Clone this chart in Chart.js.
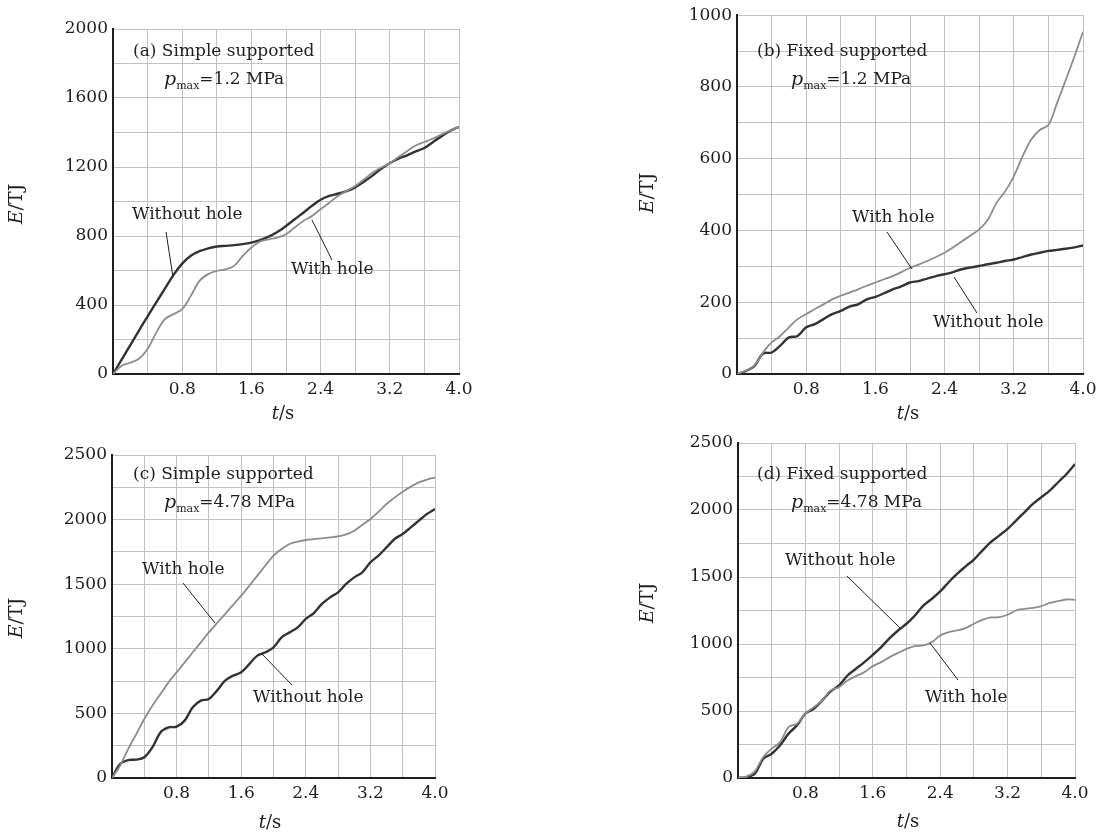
<!DOCTYPE html>
<html>
<head>
<meta charset="utf-8">
<script src="https://cdn.jsdelivr.net/npm/chart.js@4.4.1/dist/chart.umd.min.js"></script>
<style>
  html, body { margin: 0; padding: 0; background: #fff; }
  body { width: 1107px; height: 837px; position: relative; overflow: hidden; }
  canvas { position: absolute; }
</style>
</head>
<body>
<canvas id="chartA" width="590" height="425" style="left:0px;top:0px"></canvas>
<canvas id="chartB" width="517" height="425" style="left:590px;top:0px"></canvas>
<canvas id="chartC" width="590" height="412" style="left:0px;top:425px"></canvas>
<canvas id="chartD" width="517" height="412" style="left:590px;top:425px"></canvas>
<script>
// ===== DATA =====
const TIME_S = [0, 0.1, 0.2, 0.3, 0.4, 0.5, 0.6, 0.7, 0.8, 0.9, 1.0,
  1.1, 1.2, 1.3, 1.4, 1.5, 1.6, 1.7, 1.8, 1.9, 2.0,
  2.1, 2.2, 2.3, 2.4, 2.5, 2.6, 2.7, 2.8, 2.9, 3.0,
  3.1, 3.2, 3.3, 3.4, 3.5, 3.6, 3.7, 3.8, 3.9, 4.0];

const X_TICK_LABELS = ['0.8', '1.6', '2.4', '3.2', '4.0'];

// (a) simple supported, pmax = 1.2 MPa
const WITHOUT_A = [0, 84, 168, 252, 334, 415, 495, 575, 640, 685, 712,
  728, 739, 743, 747, 753, 762, 776, 796, 823, 858,
  897, 935, 975, 1010, 1032, 1045, 1060, 1082, 1115, 1150,
  1190, 1222, 1248, 1268, 1290, 1310, 1345, 1379, 1410, 1432];
const WITH_A = [0, 48, 65, 88, 145, 240, 318, 347, 376, 453, 540,
  579, 598, 607, 627, 685, 733, 768, 781, 791, 810,
  849, 887, 916, 955, 993, 1032, 1061, 1090, 1128, 1167,
  1197, 1221, 1258, 1292, 1325, 1345, 1365, 1389, 1412, 1432];
const Y_LABELS_A = [0, 400, 800, 1200, 1600, 2000];

// (b) fixed supported, pmax = 1.2 MPa
const WITH_B = [0, 9, 23, 60, 88, 106, 130, 153, 167, 181, 194,
  208, 218, 227, 236, 246, 255, 264, 273, 284, 296,
  305, 315, 326, 338, 353, 370, 386, 403, 430, 477,
  509, 551, 606, 653, 680, 694, 755, 819, 884, 954];
const WITHOUT_B = [0, 8, 22, 57, 60, 79, 102, 106, 130, 139, 153,
  167, 176, 188, 194, 208, 215, 225, 236, 244, 255,
  259, 266, 273, 278, 284, 292, 297, 301, 306, 310,
  315, 319, 326, 333, 338, 343, 346, 349, 353, 358];
const Y_LABELS_B = [0, 200, 400, 600, 800, 1000];

// (c) simple supported, pmax = 4.78 MPa
const WITH_C = [0, 95, 224, 340, 457, 560, 650, 740, 818, 895, 973,
  1050, 1127, 1198, 1269, 1340, 1411, 1488, 1566, 1645, 1721,
  1772, 1811, 1830, 1842, 1849, 1855, 1862, 1870, 1885, 1914,
  1960, 2005, 2060, 2121, 2170, 2216, 2255, 2288, 2310, 2325];
const WITHOUT_C = [0, 108, 139, 142, 160, 237, 353, 392, 397, 444, 547,
  599, 611, 676, 753, 792, 818, 882, 947, 973, 1011,
  1089, 1127, 1166, 1231, 1277, 1347, 1398, 1437, 1502, 1553,
  1592, 1669, 1721, 1785, 1850, 1889, 1940, 1992, 2043, 2082];
const Y_LABELS_C = [0, 500, 1000, 1500, 2000, 2500];

// (d) fixed supported, pmax = 4.78 MPa
const WITHOUT_D = [0, 7, 32, 144, 181, 244, 331, 393, 480, 517, 579,
  646, 691, 765, 815, 865, 919, 977, 1044, 1101, 1151,
  1213, 1287, 1337, 1392, 1461, 1523, 1578, 1630, 1697, 1760,
  1809, 1859, 1921, 1983, 2045, 2095, 2145, 2207, 2269, 2343];
const WITH_D = [0, 10, 50, 157, 219, 268, 380, 405, 480, 529, 579,
  654, 678, 728, 760, 790, 835, 865, 902, 934, 964,
  984, 989, 1014, 1064, 1088, 1101, 1118, 1151, 1180, 1198,
  1200, 1218, 1250, 1262, 1270, 1282, 1307, 1320, 1332, 1330];
const Y_LABELS_D = [0, 500, 1000, 1500, 2000, 2500];

// ===== STYLE =====
const INK = '#1e1e1e';
const DARK_LINE = '#333333';
const GRAY_LINE = '#8c8c8c';
const GRID = '#c2c2c2';
const SERIF = "'DejaVu Serif', 'Liberation Serif', serif";
const TICK_FONT = 17;
const AXIS_W = 60;
const AXIS_H = 30;

// draw a row of text runs; parts = [{t, italic, size, dy}]
function drawRuns(ctx, parts, x, y, align) {
  let total = 0;
  parts.forEach(p => {
    ctx.font = (p.italic ? 'italic ' : '') + p.size + 'px ' + SERIF;
    p.w = ctx.measureText(p.t).width;
    total += p.w;
  });
  let cx = align === 'center' ? x - total / 2 : x;
  ctx.textAlign = 'left';
  ctx.textBaseline = 'middle';
  parts.forEach(p => {
    ctx.font = (p.italic ? 'italic ' : '') + p.size + 'px ' + SERIF;
    ctx.fillText(p.t, cx, y + (p.dy || 0));
    cx += p.w;
  });
}

const panelText = {
  id: 'panelText',
  afterDatasetsDraw(chart, args, o) {
    const ctx = chart.ctx;
    ctx.save();
    ctx.translate(-o.ox, -o.oy);
    ctx.fillStyle = INK;

    // axis titles
    ctx.save();
    ctx.translate(o.yTitle[0], o.yTitle[1]);
    ctx.rotate(-Math.PI / 2);
    drawRuns(ctx, [{ t: 'E', italic: true, size: 19 }, { t: '/TJ', size: 19 }], 0, 0, 'center');
    ctx.restore();
    drawRuns(ctx, [{ t: 't', italic: true, size: 18 }, { t: '/s', size: 18 }], o.xTitle[0], o.xTitle[1], 'center');

    // case label and load
    drawRuns(ctx, [{ t: o.title, size: 17 }], o.titlePos[0], o.titlePos[1], 'left');
    drawRuns(ctx, [
      { t: 'p', italic: true, size: 19 },
      { t: 'max', size: 11, dy: 6 },
      { t: o.load, size: 17 }
    ], o.loadPos[0], o.loadPos[1], 'left');

    // curve labels with leader lines
    ctx.strokeStyle = INK;
    ctx.lineWidth = 1;
    o.labels.forEach(l => {
      drawRuns(ctx, [{ t: l.text, size: 17 }], l.at[0], l.at[1], 'left');
      ctx.beginPath();
      ctx.moveTo(l.line[0], l.line[1]);
      ctx.lineTo(l.line[2], l.line[3]);
      ctx.stroke();
    });
    ctx.restore();
  }
};

function series(values, label, color, width) {
  return {
    label,
    data: TIME_S.map((t, i) => ({ x: t, y: values[i] })),
    borderColor: color,
    borderWidth: width,
    pointRadius: 0,
    tension: 0.35,
    fill: false
  };
}

function makePanel(id, p) {
  const canvas = document.getElementById(id);
  const ox = p.canvas[0], oy = p.canvas[1];
  const w = canvas.width, h = canvas.height;
  const pad = {
    left: p.area.l - ox - AXIS_W,
    top: p.area.t - oy,
    right: ox + w - p.area.r,
    bottom: oy + h - p.area.b - AXIS_H
  };
  return new Chart(canvas, {
    type: 'line',
    data: {
      datasets: [
        series(p.withHole, 'With hole', GRAY_LINE, 1.8),
        series(p.withoutHole, 'Without hole', DARK_LINE, 2.4)
      ]
    },
    options: {
      responsive: false,
      animation: false,
      layout: { padding: pad },
      plugins: {
        legend: { display: false },
        tooltip: { enabled: false },
        panelText: Object.assign({ ox, oy }, p.text)
      },
      scales: {
        x: {
          type: 'linear',
          min: 0, max: 4,
          afterFit: s => { s.height = AXIS_H; },
          ticks: {
            stepSize: 0.4,
            autoSkip: false,
            maxRotation: 0,
            padding: 5,
            color: INK,
            font: { family: SERIF, size: TICK_FONT },
            callback: v => {
              const s = Number(v).toFixed(1);
              return X_TICK_LABELS.includes(s) ? s : '';
            }
          },
          grid: { color: GRID, lineWidth: 1, drawTicks: false },
          border: { color: INK, width: 2 }
        },
        y: {
          min: 0, max: p.yMax,
          afterFit: s => { s.width = AXIS_W; },
          ticks: {
            stepSize: p.yStep,
            autoSkip: false,
            padding: 5,
            color: INK,
            font: { family: SERIF, size: TICK_FONT },
            callback: v => (p.yLabels.includes(Math.round(v)) ? String(Math.round(v)) : '')
          },
          grid: { color: GRID, lineWidth: 1, drawTicks: false },
          border: { color: INK, width: 2 }
        }
      }
    },
    plugins: [panelText]
  });
}

makePanel('chartA', {
  canvas: [0, 0], area: { l: 113, t: 29, r: 459, b: 374 },
  yMax: 2000, yStep: 200, yLabels: Y_LABELS_A,
  withHole: WITH_A, withoutHole: WITHOUT_A,
  text: {
    yTitle: [17, 204], xTitle: [283, 414],
    title: '(a) Simple supported', titlePos: [133, 52],
    load: '=1.2 MPa', loadPos: [164, 80],
    labels: [
      { text: 'Without hole', at: [132, 215], line: [166, 232, 173, 277] },
      { text: 'With hole', at: [291, 270], line: [332, 260, 312, 220] }
    ]
  }
});

makePanel('chartB', {
  canvas: [590, 0], area: { l: 737, t: 15, r: 1083, b: 374 },
  yMax: 1000, yStep: 100, yLabels: Y_LABELS_B,
  withHole: WITH_B, withoutHole: WITHOUT_B,
  text: {
    yTitle: [648, 193], xTitle: [908, 414],
    title: '(b) Fixed supported', titlePos: [757, 52],
    load: '=1.2 MPa', loadPos: [791, 80],
    labels: [
      { text: 'With hole', at: [852, 218], line: [887, 232, 912, 269] },
      { text: 'Without hole', at: [933, 323], line: [977, 313, 954, 277] }
    ]
  }
});

makePanel('chartC', {
  canvas: [0, 425], area: { l: 112, t: 455, r: 435, b: 778 },
  yMax: 2500, yStep: 250, yLabels: Y_LABELS_C,
  withHole: WITH_C, withoutHole: WITHOUT_C,
  text: {
    yTitle: [17, 618], xTitle: [270, 823],
    title: '(c) Simple supported', titlePos: [133, 475],
    load: '=4.78 MPa', loadPos: [164, 503],
    labels: [
      { text: 'With hole', at: [142, 570], line: [183, 583, 215, 623] },
      { text: 'Without hole', at: [253, 698], line: [292, 685, 262, 654] }
    ]
  }
});

makePanel('chartD', {
  canvas: [590, 425], area: { l: 738, t: 443, r: 1075, b: 778 },
  yMax: 2500, yStep: 250, yLabels: Y_LABELS_D,
  withHole: WITH_D, withoutHole: WITHOUT_D,
  text: {
    yTitle: [648, 603], xTitle: [908, 822],
    title: '(d) Fixed supported', titlePos: [757, 475],
    load: '=4.78 MPa', loadPos: [791, 503],
    labels: [
      { text: 'Without hole', at: [785, 561], line: [847, 576, 900, 628] },
      { text: 'With hole', at: [925, 698], line: [958, 680, 930, 643] }
    ]
  }
});
</script>
</body>
</html>
